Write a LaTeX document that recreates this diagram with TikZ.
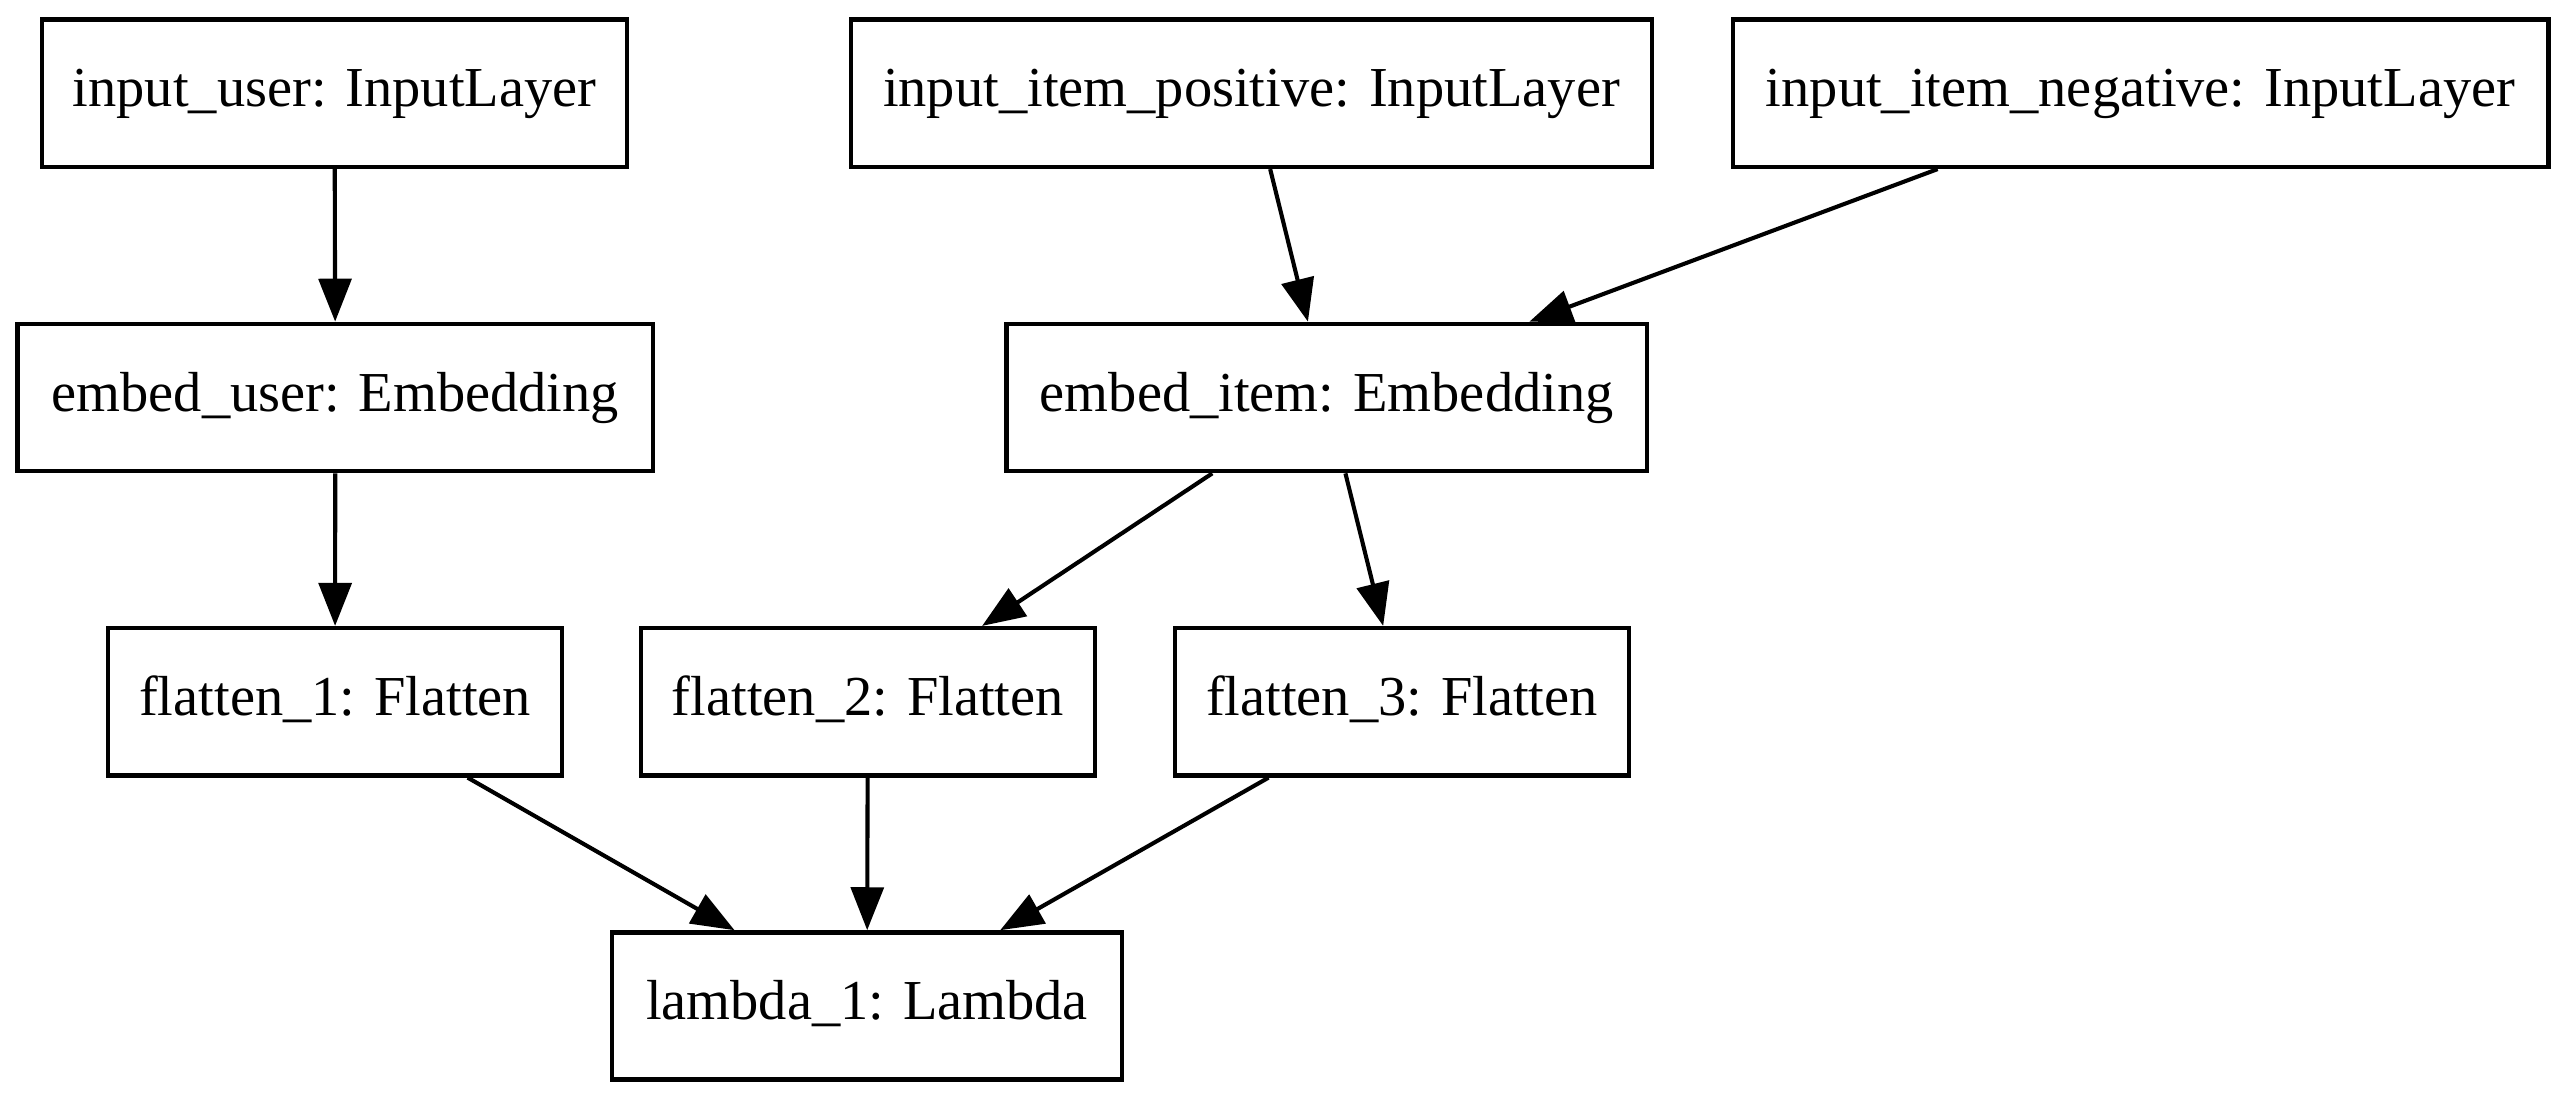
\documentclass[tikz,border=0pt]{standalone}
\usepackage{fontspec}
\setmainfont{Liberation Serif}
\usepackage{tikz}
\usetikzlibrary{arrows.meta}

\begin{document}
\begin{tikzpicture}[x=0.4pt,y=-0.4pt,
    layer/.style={draw, line width=1.1pt, minimum height=36pt, inner sep=0pt,
        font=\fontsize{13.8pt}{17pt}\selectfont, text height=9.6pt, text depth=3pt},
    link/.style={-{Triangle[length=10.5pt,width=8pt]}, line width=1pt}]
    \useasboundingbox (0,0) rectangle (1568,673);
    \foreach \name/\x/\y/\w/\lbl in {
        iuser/204.5/57/143pt/input\_user: InputLayer,
        ipos/765/57/195.8pt/input\_item\_positive: InputLayer,
        ineg/1308.5/57/199.4pt/input\_item\_negative: InputLayer,
        euser/205/243/155.4pt/embed\_user: Embedding,
        eitem/811/243/156.6pt/embed\_item: Embedding,
        flat1/204.8/429/111pt/flatten\_1: Flatten,
        flat2/530.5/429/111pt/flatten\_2: Flatten,
        flat3/857/429/111pt/flatten\_3: Flatten,
        lam/530/615/124.6pt/lambda\_1: Lambda} {
        % One box per layer
        \node[layer, minimum width=\w] (\name) at (\x,\y) {\lbl};
    }
    % Arrows between layers
    \foreach \a/\b in {iuser/euser, ipos/eitem, ineg/eitem, euser/flat1,
        eitem/flat2, eitem/flat3, flat1/lam, flat2/lam, flat3/lam} {
        \draw[link] (\a) -- (\b);
    }
\end{tikzpicture}
\end{document}
